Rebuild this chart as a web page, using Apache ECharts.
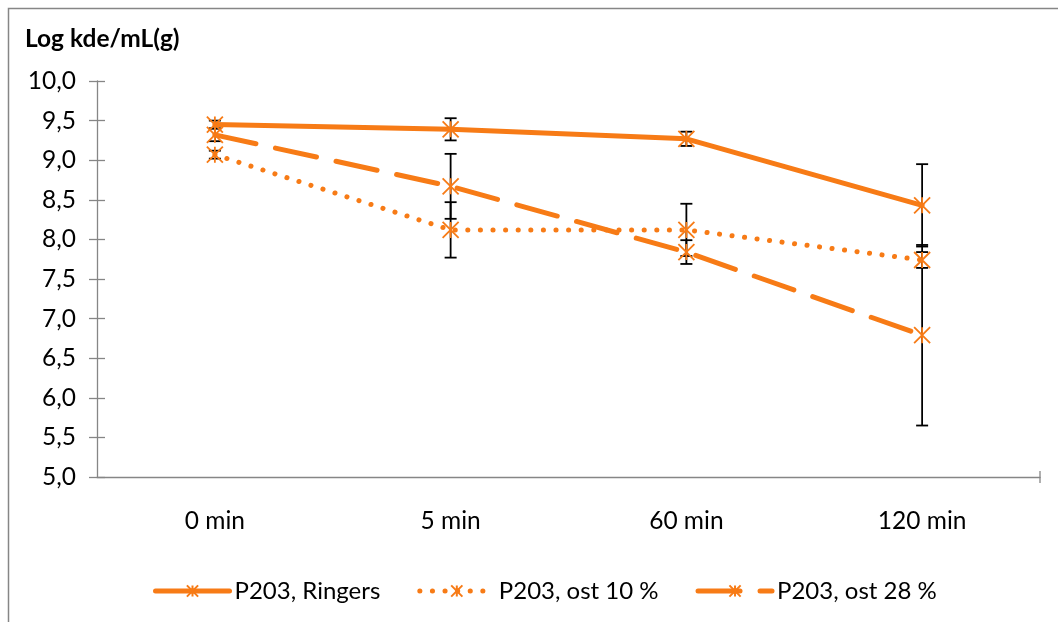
<!DOCTYPE html>
<html>
<head>
<meta charset="utf-8">
<script src="https://cdn.jsdelivr.net/npm/echarts@6/dist/echarts.min.js"></script>
<style>
  html, body { margin: 0; padding: 0; background: #fff; }
  #chart { width: 1058px; height: 622px; }
</style>
</head>
<body>
<div id="chart"></div>
<script>
// categories (time points)
const categories = ['0 min', '5 min', '60 min', '120 min']
// mean values, log kde/mL(g)
const ringers = [9.45, 9.39, 9.27, 8.43]
const ost10 = [9.07, 8.12, 8.12, 7.74]
const ost28 = [9.32, 8.67, 7.84, 6.79]
// error bar half widths
const ringersErr = [0.05, 0.14, 0.09, 0.52]
const ost10Err = [0.05, 0.35, 0.33, 0.10]
const ost28Err = [0.08, 0.41, 0.15, 1.14]
// y ticks
const yMin = 5
const yMax = 10
const yStep = 0.5

const orange = '#f77b16'
const axisGray = '#868686'
const font = 'Lato, "Liberation Sans", sans-serif'
// star marker: X with a vertical bar (like Excel)
const star = 'path://M0,0L16,16M16,0L0,16M8,0L8,16'

const chartDom = document.getElementById('chart')
const myChart = echarts.init(chartDom)

// error bar data: [index, low, high]
function errData(vals, errs) {
  return vals.map((v, i) => [i, v - errs[i], v + errs[i]])
}

function errSeries(vals, errs) {
  return {
    type: 'custom',
    z: 1,
    silent: true,
    data: errData(vals, errs),
    renderItem: (params, api) => {
      const lo = api.coord([api.value(0), api.value(1)])
      const hi = api.coord([api.value(0), api.value(2)])
      const half = 6
      const style = { stroke: '#000', lineWidth: 1.8 }
      return {
        type: 'group',
        children: [
          { type: 'line', shape: { x1: lo[0], y1: lo[1], x2: hi[0], y2: hi[1] }, style },
          { type: 'line', shape: { x1: lo[0] - half, y1: lo[1], x2: lo[0] + half, y2: lo[1] }, style },
          { type: 'line', shape: { x1: hi[0] - half, y1: hi[1], x2: hi[0] + half, y2: hi[1] }, style }
        ]
      }
    }
  }
}

function lineSeries(name, vals, dash) {
  return {
    name,
    type: 'line',
    data: vals,
    symbol: star,
    symbolSize: 16,
    z: 3,
    itemStyle: { color: orange, borderColor: orange, borderWidth: 1.8 },
    lineStyle: { color: orange, width: 5, type: dash, cap: 'round' },
    emphasis: { disabled: true }
  }
}

const option = {
  animation: false,
  textStyle: { fontFamily: font },
  title: {
    text: 'Log kde/mL(g)',
    left: 20,
    top: 22,
    textStyle: { fontFamily: font, fontSize: 24.5, fontWeight: 'bold', color: '#000' }
  },
  grid: { left: 97, right: 18, top: 81, bottom: 145 },
  legend: {
    data: ['P203, Ringers', 'P203, ost 10 %', 'P203, ost 28 %'],
    left: 148,
    top: 574,
    itemWidth: 74,
    itemHeight: 14,
    itemGap: 37,
    lineStyle: { width: 5 },
    textStyle: { fontFamily: font, fontSize: 24, color: '#000' }
  },
  xAxis: [
    {
      type: 'category',
      data: categories,
      boundaryGap: true,
      axisLine: { lineStyle: { color: axisGray, width: 1.3 } },
      axisTick: { alignWithLabel: true, length: 6, lineStyle: { color: axisGray, width: 1.3 } },
      axisLabel: { color: '#000', fontSize: 24.5, fontFamily: font, margin: 32 }
    },
    {
      type: 'category',
      data: categories,
      position: 'bottom',
      boundaryGap: true,
      axisLine: { show: false },
      axisTick: { alignWithLabel: true, inside: true, length: 5, lineStyle: { color: axisGray, width: 1.3 } },
      axisLabel: { show: false }
    }
  ],
  yAxis: [
    {
      type: 'value',
      min: yMin,
      max: yMax,
      interval: yStep,
      axisLine: { show: true, lineStyle: { color: axisGray, width: 1.3 } },
      axisTick: { show: true, length: 8, lineStyle: { color: axisGray, width: 1.3 } },
      splitLine: { show: false },
      axisLabel: {
        color: '#000',
        fontSize: 24.5,
        fontFamily: font,
        margin: 21,
        formatter: v => v.toFixed(1).replace('.', ',')
      }
    },
    {
      type: 'value',
      min: yMin,
      max: yMax,
      interval: yStep,
      position: 'left',
      axisLine: { show: false },
      axisTick: { show: true, inside: true, length: 8, lineStyle: { color: axisGray, width: 1.3 } },
      splitLine: { show: false },
      axisLabel: { show: false }
    }
  ],
  graphic: [
    // outer chart frame (cropped on the right and bottom)
    {
      type: 'rect',
      shape: { x: 8.5, y: 8.5, width: 1200, height: 800 },
      style: { fill: 'none', stroke: axisGray, lineWidth: 1.5 },
      silent: true,
      z: -1
    },
    // tick at the end of the category axis
    {
      type: 'line',
      shape: { x1: 1040, y1: 471, x2: 1040, y2: 483 },
      style: { stroke: axisGray, lineWidth: 1.3 },
      silent: true
    }
  ],
  series: [
    errSeries(ringers, ringersErr),
    errSeries(ost10, ost10Err),
    errSeries(ost28, ost28Err),
    lineSeries('P203, Ringers', ringers, 'solid'),
    lineSeries('P203, ost 10 %', ost10, [0.1, 12.5]),
    lineSeries('P203, ost 28 %', ost28, [42, 20])
  ]
}

myChart.setOption(option)
</script>
</body>
</html>
